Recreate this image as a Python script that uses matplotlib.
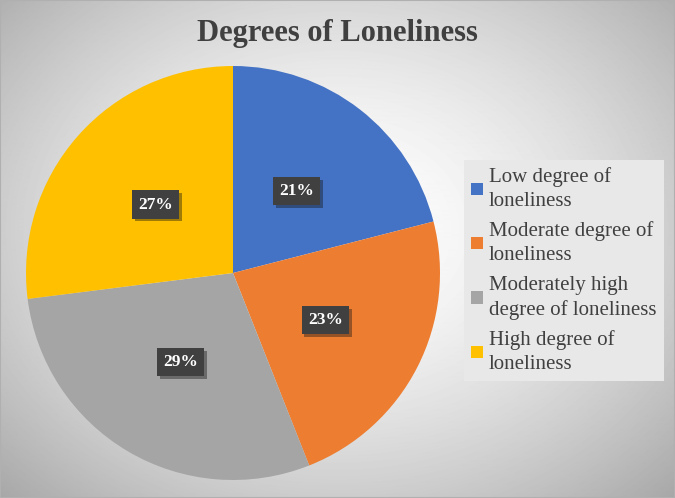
import numpy as np
import matplotlib.pyplot as plt
from matplotlib import patheffects as pe

labels = [
    "Low degree of\nloneliness",
    "Moderate degree of\nloneliness",
    "Moderately high\ndegree of loneliness",
    "High degree of\nloneliness",
]
shares = [21, 23, 29, 27]
colors = ["#4472C4", "#ED7D31", "#A5A5A5", "#FFC000"]

plt.rcParams["font.family"] = ["Liberation Serif", "DejaVu Serif"]

fig = plt.figure(figsize=(6.75, 4.98), dpi=100)

# radial gradient background
bg = fig.add_axes([0, 0, 1, 1])
yy, xx = np.mgrid[0:498, 0:675]
d = np.sqrt(((xx - 337) / 420.0) ** 2 + ((yy - 230) / 330.0) ** 2)
shade = np.clip(1.0 - 0.28 * d ** 1.6, 0, 1)
bg.imshow(shade, cmap="gray", vmin=0, vmax=1, aspect="auto", extent=[0, 1, 0, 1])
bg.add_patch(plt.Rectangle((0, 0), 1, 1, fill=False, ec="#b0b0b0", lw=1.5,
                           transform=bg.transAxes))
bg.set_axis_off()

ax = fig.add_axes([26 / 675, 18 / 498, 414 / 675, 414 / 498])
wedges, texts, autotexts = ax.pie(
    shares, colors=colors, startangle=90, counterclock=False,
    autopct="%d%%", pctdistance=0.5, radius=1,
    wedgeprops=dict(linewidth=0),
    textprops=dict(color="white", fontsize=12.5, fontweight="bold"),
)
for t in autotexts:
    t.set_bbox(dict(boxstyle="square,pad=0.35", fc="#404040", ec="none",
                    path_effects=[pe.SimplePatchShadow(offset=(2, -2), alpha=0.4),
                                  pe.Normal()]))
ax.set_xlim(-1, 1)
ax.set_ylim(-1, 1)
ax.set_aspect("equal")
ax.set_axis_off()

fig.text(337 / 675, 1 - 34 / 498, "Degrees of Loneliness", ha="center", va="center",
         fontsize=22, fontweight="bold", color="#404040")

leg = fig.legend(wedges, labels, loc="upper left", bbox_to_anchor=(464 / 675, 1 - 160 / 498),
                 borderaxespad=0, frameon=True, fontsize=15,
                 handlelength=0.55, handleheight=0.55,
                 handletextpad=0.3, labelspacing=0.5, borderpad=0.35,
                 labelcolor="#404040")
for t in leg.get_texts():
    t.set_linespacing(1.35)
leg.get_frame().set_facecolor("#e8e8e8")
leg.get_frame().set_edgecolor("none")
leg.get_frame().set_alpha(1)
leg.get_frame().set_boxstyle("square", pad=0)

fig.savefig("out.png", dpi=100)
